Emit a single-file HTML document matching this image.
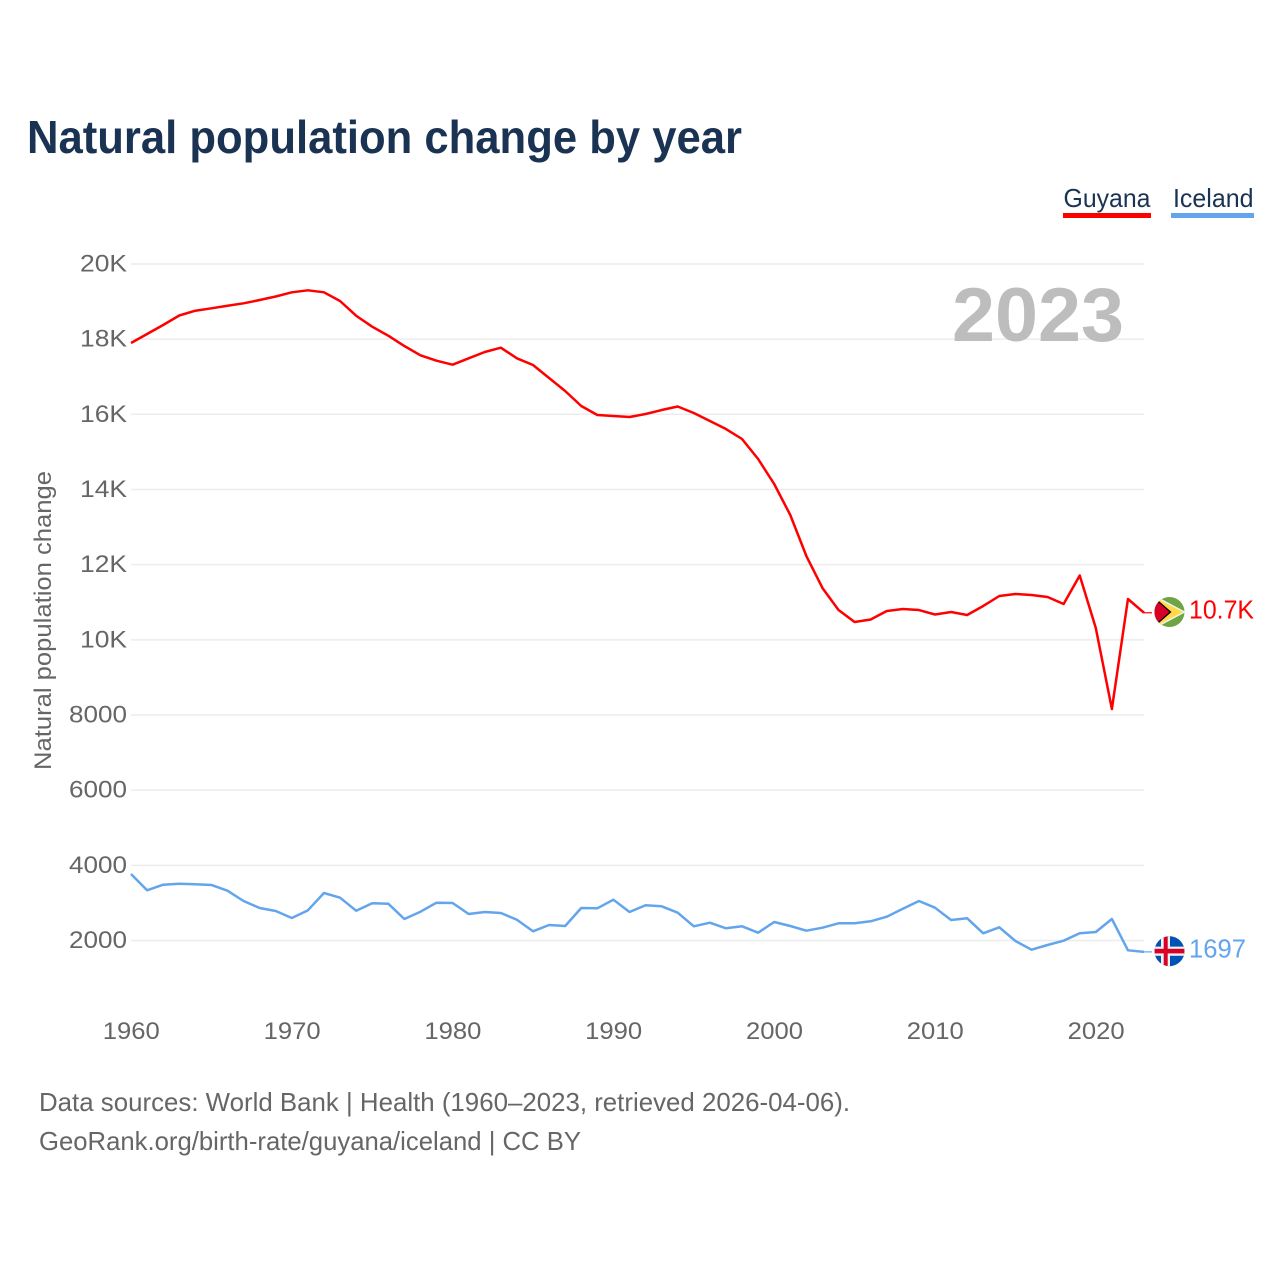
<!DOCTYPE html>
<html lang="en">
<head>
<meta charset="utf-8">
<title>Natural population change by year</title>
<style>
html,body{margin:0;padding:0;background:#fff;width:1280px;height:1280px;overflow:hidden}
svg{display:block}
text{font-family:"Liberation Sans",sans-serif}
</style>
</head>
<body>
<svg id="chart" xmlns="http://www.w3.org/2000/svg" width="1280" height="1280" viewBox="0 0 1280 1280">
  <defs>
    <clipPath id="flag-clip-guyana"><circle cx="1169.5" cy="612" r="15"/></clipPath>
    <clipPath id="flag-clip-iceland"><circle cx="1169.5" cy="951.2" r="15"/></clipPath>
  </defs>
  <text x="27" y="153" font-size="46" font-weight="700" fill="#1a3353" textLength="715" lengthAdjust="spacingAndGlyphs">Natural population change by year</text>

  <g>
    <g>
      <text x="1063.5" y="207" font-size="26" fill="#1a3353" textLength="87" lengthAdjust="spacingAndGlyphs">Guyana</text>
      <rect x="1063" y="213" width="88" height="5" fill="#ff0000"/>
    </g>
    <g>
      <text x="1173" y="207" font-size="26" fill="#1a3353" textLength="80.5" lengthAdjust="spacingAndGlyphs">Iceland</text>
      <rect x="1171" y="213" width="83" height="5" fill="#63a5ec"/>
    </g>
  </g>

  <g id="grid"></g>
  <text x="952" y="341" font-size="76" font-weight="700" fill="#bdbdbd" textLength="172" lengthAdjust="spacingAndGlyphs">2023</text>
  <g id="y-ticks"></g>
  <g id="x-ticks"></g>
  <text transform="translate(51 770) rotate(-90)" x="0" y="0" font-size="24.5" fill="#666666" textLength="299" lengthAdjust="spacingAndGlyphs">Natural population change</text>
  <g id="series"></g>

  <g clip-path="url(#flag-clip-guyana)">
    <rect x="1154" y="596" width="31" height="32" fill="#6da544"/>
    <polygon points="1153,594.5 1186,612 1153,629.5" fill="#f0f0f0"/>
    <polygon points="1153,596.5 1183,612 1153,627.5" fill="#ffda44"/>
    <polygon points="1153,596 1171.5,612 1153,628" fill="#000000"/>
    <polygon points="1153,597.5 1169.5,612 1153,626.5" fill="#d80027"/>
  </g>
  <g clip-path="url(#flag-clip-iceland)">
    <rect x="1154" y="936" width="31" height="31" fill="#0052b4"/>
    <rect x="1161" y="936" width="9" height="31" fill="#f0f0f0"/>
    <rect x="1154" y="946.6" width="31" height="9.2" fill="#f0f0f0"/>
    <rect x="1163.7" y="936" width="4" height="31" fill="#d80027"/>
    <rect x="1154" y="948.8" width="31" height="4.6" fill="#d80027"/>
  </g>
  <g id="end-labels"></g>

  <text x="39" y="1111" font-size="26" fill="#666666" textLength="811" lengthAdjust="spacingAndGlyphs">Data sources: World Bank | Health (1960–2023, retrieved 2026-04-06).</text>
  <text x="39" y="1150" font-size="26" fill="#666666" textLength="542" lengthAdjust="spacingAndGlyphs">GeoRank.org/birth-rate/guyana/iceland | CC BY</text>
</svg>
<script>
const startYear = 1960;
const yTickValues = [2000, 4000, 6000, 8000, 10000, 12000, 14000, 16000, 18000, 20000];
const xTickYears = [1960, 1970, 1980, 1990, 2000, 2010, 2020];
const guyanaValues = [
  17897, 18137, 18376, 18629, 18756, 18820, 18889, 18953, 19041, 19134,
  19246, 19299, 19246, 19015, 18623, 18331, 18091, 17817, 17570, 17426,
  17320, 17490, 17658, 17772, 17490, 17312, 16966, 16620, 16221, 15981,
  15955, 15928, 16008, 16114, 16208, 16035, 15822, 15609, 15343, 14811,
  14146, 13321, 12230, 11379, 10793, 10474, 10540, 10767, 10820, 10793,
  10674, 10740, 10660, 10900, 11166, 11219, 11192, 11139, 10953, 11711,
  10314, 8159, 11086, 10720
];
const icelandValues = [
  3769, 3336, 3485, 3511, 3495, 3477, 3325, 3051, 2865, 2785,
  2599, 2803, 3264, 3139, 2793, 2990, 2979, 2572, 2766, 3006,
  2998, 2705, 2758, 2732, 2553, 2245, 2412, 2386, 2865, 2857,
  3086, 2758, 2937, 2910, 2740, 2378, 2474, 2325, 2378, 2208,
  2492, 2386, 2261, 2341, 2458, 2458, 2511, 2633, 2846, 3051,
  2873, 2545, 2591, 2192, 2351, 1987, 1755, 1880, 1995, 2192,
  2226, 2572, 1739, 1697
];

const SVG_NS = 'http://www.w3.org/2000/svg';
const PLOT_LEFT = 131;
const PLOT_RIGHT = 1144;
const RED = '#ff0000';
const BLUE = '#63a5ec';

function xScale(year) {
  return 131 + (year - 1960) * 16.08;
}
function yScale(value) {
  return 940.5 - (value - 2000) * 0.037585;
}
function formatTick(value) {
  return value >= 10000 ? (value / 1000) + 'K' : String(value);
}
function formatEnd(value) {
  return value >= 10000 ? (value / 1000).toFixed(1) + 'K' : String(value);
}
function svgEl(tag) {
  return document.createElementNS(SVG_NS, tag);
}

const gridGroup = document.getElementById('grid');
const yTickGroup = document.getElementById('y-ticks');
yTickValues.forEach(function (value) {
  const line = svgEl('line');
  
  
  line.setAttribute('x1', PLOT_LEFT);
  line.setAttribute('x2', PLOT_RIGHT);
  line.setAttribute('y1', yScale(value));
  line.setAttribute('y2', yScale(value));
  line.setAttribute('stroke', '#ececec');
  line.setAttribute('stroke-width', '1.5');
  gridGroup.appendChild(line);

  const label = svgEl('text');
  
  
  const text = formatTick(value);
  label.setAttribute('x', 127 - (text.length === 3 ? 47 : 58));
  label.setAttribute('y', yScale(value) + 7.5);
  label.setAttribute('font-size', '24.5');
  label.setAttribute('fill', '#666666');
  label.setAttribute('textLength', text.length === 3 ? 47 : 58);
  label.setAttribute('lengthAdjust', 'spacingAndGlyphs');
  label.textContent = text;
  yTickGroup.appendChild(label);
});

const xTickGroup = document.getElementById('x-ticks');
xTickYears.forEach(function (year) {
  const label = svgEl('text');
  
  
  label.setAttribute('x', xScale(year) - 28.2);
  label.setAttribute('y', 1039);
  label.setAttribute('font-size', '24.5');
  label.setAttribute('fill', '#666666');
  label.setAttribute('textLength', 57);
  label.setAttribute('lengthAdjust', 'spacingAndGlyphs');
  label.textContent = String(year);
  xTickGroup.appendChild(label);
});

function drawSeries(values, color, group) {
  const points = values.map(function (value, i) {
    return xScale(startYear + i).toFixed(2) + ',' + yScale(value).toFixed(2);
  });
  const path = svgEl('polyline');
  
  
  path.setAttribute('points', points.join(' '));
  path.setAttribute('fill', 'none');
  path.setAttribute('stroke', color);
  path.setAttribute('stroke-width', '2.5');
  path.setAttribute('stroke-linejoin', 'round');
  group.appendChild(path);

  const lastY = yScale(values[values.length - 1]);
  const connector = svgEl('line');
  
  
  connector.setAttribute('x1', PLOT_RIGHT);
  connector.setAttribute('x2', 1152);
  connector.setAttribute('y1', lastY);
  connector.setAttribute('y2', lastY);
  connector.setAttribute('stroke', color);
  connector.setAttribute('stroke-width', '1.2');
  group.appendChild(connector);
}
const seriesGroup = document.getElementById('series');
drawSeries(guyanaValues, RED, seriesGroup);
drawSeries(icelandValues, BLUE, seriesGroup);

function drawEndLabel(values, color, width, group) {
  const last = values[values.length - 1];
  const label = svgEl('text');
  
  
  label.setAttribute('x', 1189);
  label.setAttribute('y', yScale(last) + 5.5);
  label.setAttribute('font-size', '25.5');
  label.setAttribute('fill', color);
  label.setAttribute('textLength', width);
  label.setAttribute('lengthAdjust', 'spacingAndGlyphs');
  label.textContent = formatEnd(last);
  group.appendChild(label);
}
const endLabelGroup = document.getElementById('end-labels');
drawEndLabel(guyanaValues, RED, 65, endLabelGroup);
drawEndLabel(icelandValues, BLUE, 57, endLabelGroup);
</script>
</body>
</html>
